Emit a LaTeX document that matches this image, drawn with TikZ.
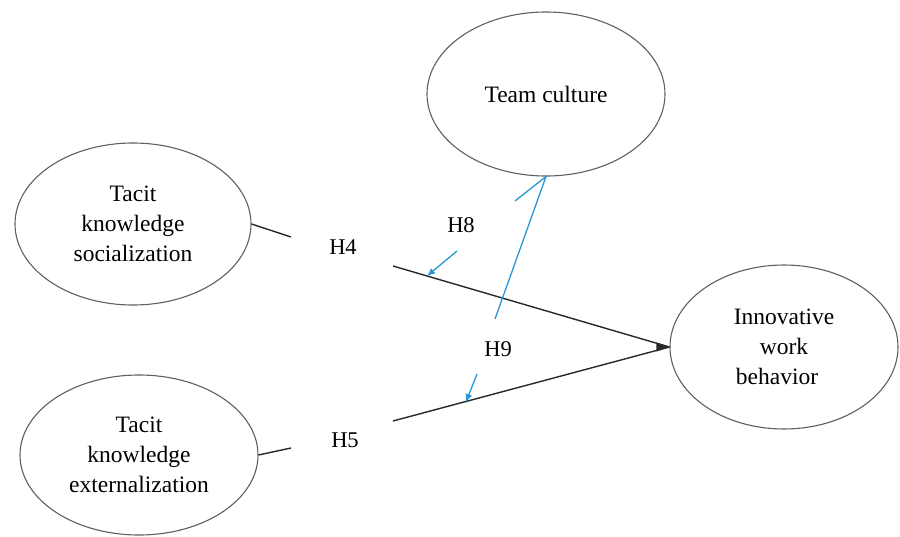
\documentclass[tikz,border=0pt]{standalone}
\usepackage{fontspec}
\setmainfont{Liberation Serif}
\usetikzlibrary{shapes.geometric,arrows.meta}
\definecolor{edgegray}{RGB}{95,95,95}
\definecolor{linkblack}{RGB}{40,40,40}
\definecolor{modblue}{RGB}{40,150,215}
\begin{document}
\begin{tikzpicture}[x=1pt,y=-1pt,
  construct/.style={ellipse,draw=edgegray,line width=1.1pt,inner sep=0pt,
    align=center,font=\rmfamily\fontsize{23.5}{30}\selectfont},
  hlabel/.style={font=\rmfamily\fontsize{22.5}{27}\selectfont,inner sep=0pt},
  path/.style={draw=linkblack,line width=1.4pt},
  modline/.style={draw=modblue,line width=1.3pt},
  modarrow/.style={modline,-{Latex[length=8pt,width=7pt]}}]
\useasboundingbox (0,0) rectangle (900,536);

% constructs
\node[construct,minimum width=238pt,minimum height=164pt] (tc) at (546,94) {Team culture};
\node[construct,minimum width=236pt,minimum height=162pt] (soc) at (133,224) {Tacit\\knowledge\\socialization};
\node[construct,minimum width=238pt,minimum height=160pt] (ext) at (139,455) {Tacit\\knowledge\\externalization};
\node[construct,minimum width=228pt,minimum height=164pt] (iwb) at (784,347) {Innovative\\work\\behavior\hspace*{14pt}};

% hypothesis labels
\node[hlabel] (h4) at (343,247) {H4};
\node[hlabel] (h5) at (345,440) {H5};
\node[hlabel] (h8) at (461,225) {H8};
\node[hlabel] (h9) at (498,349) {H9};

% direct paths, interrupted at the labels
\coordinate (s1) at (291,237);
\coordinate (s2) at (393,266);
\coordinate (e1) at (291,448);
\coordinate (e2) at (393,421);
\draw[path] (soc.east) -- (s1);
\draw[path] (s2) -- (iwb.west);
\draw[path] (ext.east) -- (e1);
\draw[path] (e2) -- (iwb.west);
\fill[linkblack] (iwb.west) -- ++(-13,-4.5) -- ++(0,9) -- cycle;

% moderating effects of team culture
\coordinate (m0) at (495,319);
\coordinate (mh) at (515,201);
\coordinate (a8s) at (457,251);
\coordinate (a8e) at (427,276);
\coordinate (a9s) at (477,374);
\coordinate (a9e) at (466,402);
\draw[modline] (m0) -- (tc.south) -- (mh);
\draw[modarrow] (a8s) -- (a8e);
\draw[modarrow] (a9s) -- (a9e);
\end{tikzpicture}
\end{document}
